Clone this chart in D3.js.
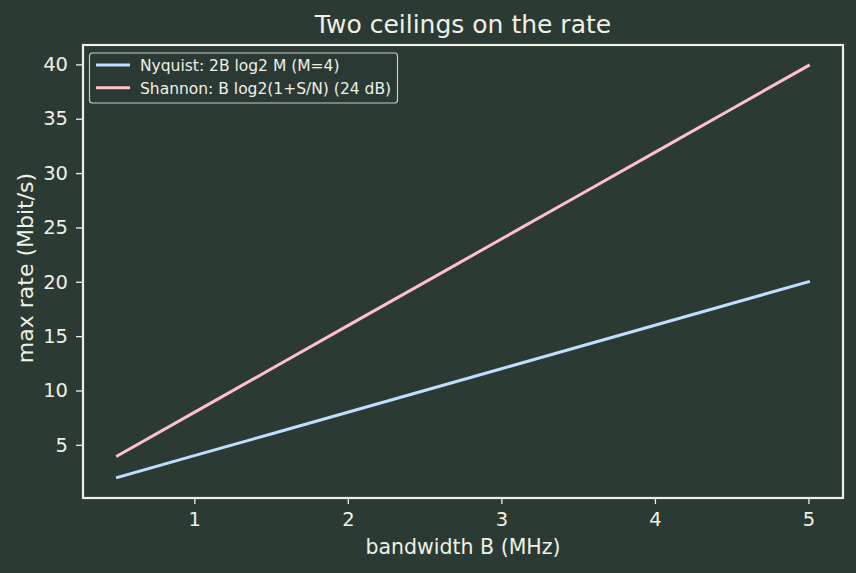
<!DOCTYPE html>
<html><head><meta charset="utf-8">
<script src="https://cdn.jsdelivr.net/npm/d3@7/dist/d3.min.js"></script>
<style>
html,body{margin:0;padding:0;background:#2b3a33;}
svg{display:block;font-family:"DejaVu Sans",sans-serif;}
</style></head><body>
<svg id="chart" width="856" height="573"></svg>
<script>
const bandwidth = [0.5, 1.0, 1.5, 2.0, 2.5, 3.0, 3.5, 4.0, 4.5, 5.0];
const nyquist = [2, 4, 6, 8, 10, 12, 14, 16, 18, 20];
const shannon = [3.99, 7.98, 11.97, 15.96, 19.94, 23.93, 27.92, 31.91, 35.90, 39.89];
const seriesNames = ["Nyquist: 2B log2 M (M=4)", "Shannon: B log2(1+S/N) (24 dB)"];
const xTicks = [1, 2, 3, 4, 5];
const yTicks = [5, 10, 15, 20, 25, 30, 35, 40];

const bg = "#2b3a33", fg = "#f0f0e6", colors = ["#bfdfff", "#ffc0cb"];
const svg = d3.select("#chart");
const L = 83, R = 843, T = 45, B = 498;

const xmin = d3.min(bandwidth), xmax = d3.max(bandwidth);
const allY = nyquist.concat(shannon);
const ymin = d3.min(allY), ymax = d3.max(allY);
const xpad = (xmax - xmin) * 0.05, ypad = (ymax - ymin) * 0.05;
const x = d3.scaleLinear().domain([xmin - xpad, xmax + xpad]).range([L, R]);
const y = d3.scaleLinear().domain([ymin - ypad, ymax + ypad]).range([B, T]);

svg.append("rect").attr("width", 856).attr("height", 573).attr("fill", bg);

// axes
const xAxis = svg.append("g").attr("transform", `translate(0,${B})`)
  .call(d3.axisBottom(x).tickValues(xTicks).tickFormat(d3.format("d")).tickSize(6).tickPadding(8));
const yAxis = svg.append("g").attr("transform", `translate(${L},0)`)
  .call(d3.axisLeft(y).tickValues(yTicks).tickFormat(d3.format("d")).tickSize(7).tickPadding(8));
[xAxis, yAxis].forEach(a => {
  a.select(".domain").remove();
  a.selectAll(".tick line").attr("stroke", fg).attr("stroke-width", 1.3);
  a.selectAll(".tick text").attr("fill", fg).style("font-size", "19.5px").style("font-family", "DejaVu Sans");
});

// lines
const line = d3.line().x((d, i) => x(bandwidth[i])).y(d => y(d));
[nyquist, shannon].forEach((s, i) => {
  svg.append("path").datum(s).attr("d", line).attr("fill", "none")
    .attr("stroke", colors[i]).attr("stroke-width", 3).attr("stroke-linecap", "square");
});

// frame
svg.append("rect").attr("x", L).attr("y", T).attr("width", R - L).attr("height", B - T)
  .attr("fill", "none").attr("stroke", fg).attr("stroke-width", 2.2);

// title & labels
svg.append("text").attr("x", (L + R) / 2).attr("y", 33).attr("text-anchor", "middle")
  .attr("fill", fg).style("font-size", "25px").text("Two ceilings on the rate");
svg.append("text").attr("x", (L + R) / 2).attr("y", 554).attr("text-anchor", "middle")
  .attr("fill", fg).style("font-size", "20.5px").text("bandwidth B (MHz)");
svg.append("text").attr("transform", `translate(33,268) rotate(-90)`).attr("text-anchor", "middle")
  .attr("fill", fg).style("font-size", "22px").text("max rate (Mbit/s)");

// legend
const lg = svg.append("g");
lg.append("rect").attr("x", 89.5).attr("y", 53).attr("width", 308).attr("height", 50).attr("rx", 3)
  .attr("fill", bg).attr("fill-opacity", 0.8).attr("stroke", "#c8ccc4").attr("stroke-width", 1.2);
seriesNames.forEach((n, i) => {
  const yy = 65 + i * 22.7;
  lg.append("line").attr("x1", 96).attr("x2", 130).attr("y1", yy).attr("y2", yy)
    .attr("stroke", colors[i]).attr("stroke-width", 3);
  lg.append("text").attr("x", 140).attr("y", yy + 6).attr("fill", fg).style("font-size", "15.5px").text(n);
});
</script></body></html>
